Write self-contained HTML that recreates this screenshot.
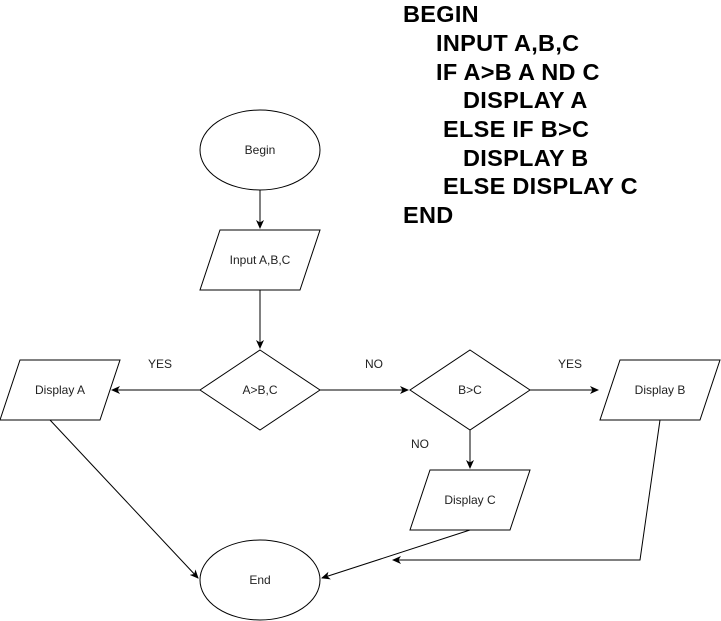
<!DOCTYPE html><html><head><style>body{margin:0;background:#fff}svg{display:block}</style></head><body>
<svg width="721" height="621" xmlns="http://www.w3.org/2000/svg" font-family="Liberation Sans, sans-serif">
<defs><marker id="a" markerWidth="10" markerHeight="10" refX="8" refY="4" orient="auto" markerUnits="userSpaceOnUse"><path d="M0,0 L9,4 L0,8 L2.5,4 Z" fill="#000"/></marker></defs>
<g fill="#fff" stroke="#000" stroke-width="1">
<ellipse cx="260" cy="150" rx="60" ry="40"/>
<polygon points="220,230 320,230 300,290 200,290"/>
<polygon points="260,350 320,390 260,430 200,390"/>
<polygon points="470,350 530,390 470,430 410,390"/>
<polygon points="20,360 120,360 100,420 0,420"/>
<polygon points="620,360 720,360 700,420 600,420"/>
<polygon points="430,470 530,470 510,530 410,530"/>
<ellipse cx="260" cy="580" rx="60" ry="40"/>
</g>
<g stroke="#000" fill="none" stroke-width="1">
<line x1="260" y1="190" x2="260" y2="228" marker-end="url(#a)"/>
<line x1="260" y1="290" x2="260" y2="348" marker-end="url(#a)"/>
<line x1="200" y1="390" x2="112" y2="390" marker-end="url(#a)"/>
<line x1="320" y1="390" x2="408" y2="390" marker-end="url(#a)"/>
<line x1="530" y1="390" x2="598" y2="390" marker-end="url(#a)"/>
<line x1="470" y1="430" x2="470" y2="468" marker-end="url(#a)"/>
<line x1="50" y1="420" x2="198" y2="578" marker-end="url(#a)"/>
<line x1="470" y1="530" x2="322" y2="578" marker-end="url(#a)"/>
<polyline points="660,420 640,560 393,560" marker-end="url(#a)"/>
</g>
<g font-size="12" fill="#222" text-anchor="middle">
<text x="260" y="154">Begin</text>
<text x="260" y="264">Input A,B,C</text>
<text x="260" y="394">A&gt;B,C</text>
<text x="470" y="394">B&gt;C</text>
<text x="60" y="394">Display A</text>
<text x="660" y="394">Display B</text>
<text x="470" y="504">Display C</text>
<text x="260" y="584">End</text>
<text x="160" y="368">YES</text>
<text x="374" y="368">NO</text>
<text x="570" y="368">YES</text>
<text x="420" y="448">NO</text>
</g>
<g font-size="23.5" font-weight="bold" fill="#000" letter-spacing="0.3">
<text x="403" y="22">BEGIN</text>
<text x="436" y="51">INPUT A,B,C</text>
<text x="436" y="80">IF A&gt;B A ND C</text>
<text x="463" y="108">DISPLAY A</text>
<text x="443" y="137">ELSE IF B&gt;C</text>
<text x="463" y="166">DISPLAY B</text>
<text x="443" y="194">ELSE DISPLAY C</text>
<text x="403" y="223">END</text>
</g>
</svg></body></html>
